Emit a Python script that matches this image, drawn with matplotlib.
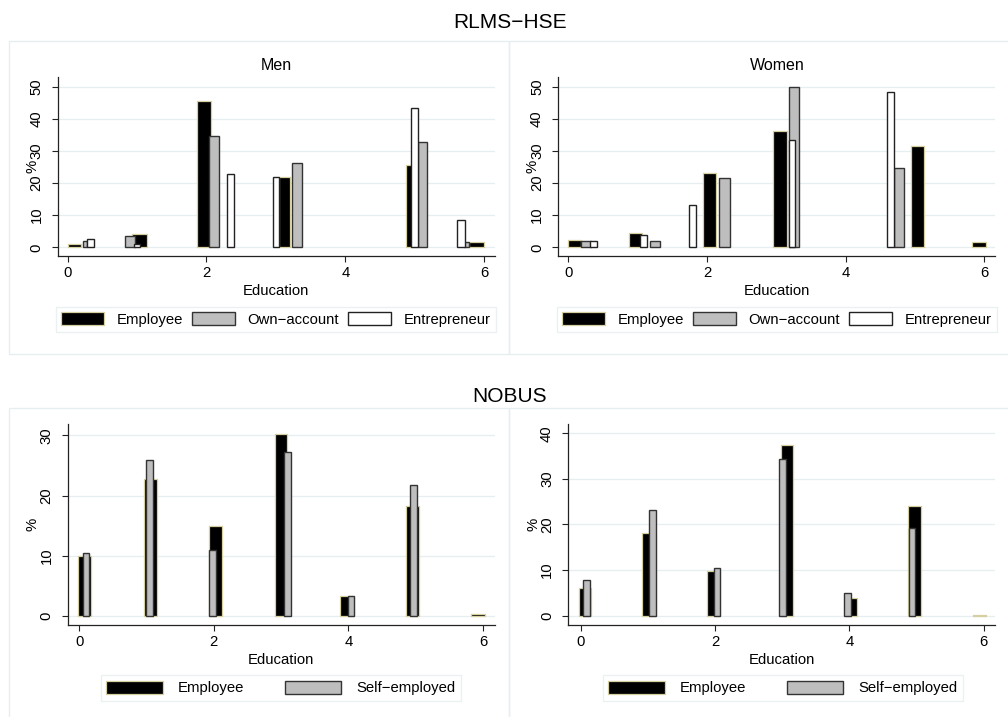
import matplotlib
matplotlib.use("Agg")
import matplotlib.pyplot as plt
from matplotlib.patches import Patch, Rectangle

plt.rcParams['font.family'] = ['Liberation Sans', 'DejaVu Sans']

# RLMS-HSE, men: bar positions on the education scale, widths, and shares (%)
men_emp_x = [0.095, 1.035, 1.965, 3.12, 4.96, 5.89]
men_emp_w = [0.19, 0.21, 0.19, 0.16, 0.18, 0.22]
men_emp = [0.9, 4.0, 45.5, 21.9, 25.6, 1.8]
men_own_x = [0.255, 0.90, 2.11, 3.305, 5.115, 5.745]
men_own_w = [0.06, 0.14, 0.14, 0.15, 0.13, 0.07]
men_own = [1.9, 3.4, 34.5, 26.1, 32.9, 1.8]
men_ent_x = [0.33, 0.995, 2.34, 3.005, 5.0, 5.665]
men_ent_w = [0.10, 0.09, 0.10, 0.09, 0.10, 0.11]
men_ent = [2.5, 1.1, 22.9, 21.9, 43.5, 8.5]

# RLMS-HSE, women
wom_emp_x = [0.09, 0.975, 2.04, 3.06, 5.035, 5.92]
wom_emp_w = [0.18, 0.19, 0.18, 0.20, 0.19, 0.20]
wom_emp = [2.3, 4.6, 23.0, 36.1, 31.5, 1.7]
wom_own_x = [0.255, 1.255, 2.255, 3.255, 4.77]
wom_own_w = [0.15, 0.15, 0.15, 0.15, 0.14]
wom_own = [2.0, 2.0, 21.7, 50.0, 24.7]
wom_ent_x = [0.36, 1.085, 1.79, 3.225, 4.65]
wom_ent_w = [0.10, 0.09, 0.10, 0.09, 0.10]
wom_ent = [2.0, 3.7, 13.1, 33.5, 48.2]

# NOBUS, men
nb_men_emp_x = [0.075, 1.055, 2.025, 3.0, 3.98, 4.955, 5.93]
nb_men_emp_w = [0.19, 0.19, 0.19, 0.18, 0.20, 0.19, 0.20]
nb_men_emp = [10.0, 22.7, 14.9, 30.3, 3.2, 18.2, 0.2]
nb_men_self_x = [0.10, 1.04, 1.975, 3.09, 4.04, 4.97]
nb_men_self_w = [0.10, 0.10, 0.10, 0.10, 0.10, 0.10]
nb_men_self = [10.5, 25.9, 10.9, 27.2, 3.2, 21.8]

# NOBUS, women
nb_wom_emp_x = [0.06, 1.02, 1.98, 3.07, 4.03, 4.97, 5.935]
nb_wom_emp_w = [0.18, 0.20, 0.20, 0.18, 0.18, 0.20, 0.19]
nb_wom_emp = [6.1, 18.2, 9.7, 37.5, 3.9, 24.1, 0.15]
nb_wom_self_x = [0.09, 1.07, 2.03, 3.0, 3.97, 4.935]
nb_wom_self_w = [0.10, 0.10, 0.10, 0.10, 0.10, 0.10]
nb_wom_self = [7.8, 23.1, 10.4, 34.4, 4.9, 19.2]

x_ticks = [0, 2, 4, 6]

W, H = 1008, 717
FS = 10.7
GRID = '#e6eef0'
emp_style = dict(facecolor='black', edgecolor='#d6cfa0', linewidth=0.9, zorder=2)
own_style = dict(facecolor='#bebebe', edgecolor='#333333', linewidth=1.0, zorder=3)
ent_style = dict(facecolor='white', edgecolor='#222222', linewidth=1.0, zorder=4)

fig = plt.figure(figsize=(W / 100, H / 100), dpi=100)


def px_rect(x0, y0, x1, y1):
    # pixel box (top-left origin) -> figure fraction rect
    return [x0 / W, 1 - y1 / H, (x1 - x0) / W, (y1 - y0) / H]


def setup_axes(rect, xlim, ylim, yticks, pct_x):
    ax = fig.add_axes(rect)
    ax.set_xlim(*xlim)
    ax.set_ylim(*ylim)
    ax.set_xticks(x_ticks)
    ax.set_yticks(yticks)
    ax.spines['top'].set_visible(False)
    ax.spines['right'].set_visible(False)
    for s in ('left', 'bottom'):
        ax.spines[s].set_color('#222222')
        ax.spines[s].set_linewidth(0.9)
    ax.yaxis.grid(True, color=GRID, linewidth=0.9)
    ax.set_axisbelow(True)
    ax.tick_params(axis='both', length=4.3, width=0.8, color='#222222', labelsize=FS)
    ax.tick_params(axis='x', pad=3)
    ax.tick_params(axis='y', pad=6, labelrotation=90)
    for lbl in ax.get_yticklabels():
        lbl.set_va('center')
    ax.set_xlabel('Education', fontsize=FS, labelpad=3)
    ax.text(pct_x, 0.5, '%', transform=ax.transAxes, rotation=90,
            ha='center', va='center', fontsize=FS)
    return ax


# light frames around each graph
for box in [(9, 41, 509, 354), (509, 41, 1012, 354), (9, 408, 509, 722), (509, 408, 1012, 722)]:
    r = px_rect(*box)
    fig.add_artist(Rectangle((r[0], r[1]), r[2], r[3], transform=fig.transFigure,
                             fill=False, edgecolor=GRID, linewidth=1.0))

fig.text(0.506, 1 - 23 / H, 'RLMS\u2212HSE', ha='center', va='center', fontsize=15)
fig.text(0.506, 1 - 397 / H, 'NOBUS', ha='center', va='center', fontsize=15)

rlms_handles = [Patch(label='Employee', **emp_style),
                Patch(label='Own\u2212account', **own_style),
                Patch(label='Entrepreneur', **ent_style)]
nobus_handles = [Patch(label='Employee', **emp_style),
                 Patch(label='Self\u2212employed', **own_style)]

# top row: RLMS-HSE
panels = [
    ('Men', px_rect(57.7, 77, 495, 256), men_emp_x, men_emp_w, men_emp,
     men_own_x, men_own_w, men_own, men_ent_x, men_ent_w, men_ent, 276),
    ('Women', px_rect(558.3, 77, 995, 256), wom_emp_x, wom_emp_w, wom_emp,
     wom_own_x, wom_own_w, wom_own, wom_ent_x, wom_ent_w, wom_ent, 777),
]
for title, rect, ex, ew, ey, ox, ow, oy, nx, nw, ny, cx in panels:
    ax = setup_axes(rect, (-0.144, 6.157), (-2.7, 53.0), [0, 10, 20, 30, 40, 50], -0.058)
    ax.bar(ex, ey, width=ew, **emp_style)
    ax.bar(ox, oy, width=ow, **own_style)
    ax.bar(nx, ny, width=nw, **ent_style)
    fig.text(cx / W, 1 - 65 / H, title, ha='center', va='center', fontsize=11.5)
    ax.legend(handles=rlms_handles, loc='center', bbox_to_anchor=(cx / W, 1 - 319.5 / H),
              bbox_transform=fig.transFigure, ncol=3, fontsize=FS, frameon=True,
              fancybox=False, edgecolor=GRID, handlelength=2.9, handleheight=1.0,
              handletextpad=0.85, columnspacing=0.6, borderpad=0.35)

# bottom row: NOBUS
panels = [
    (px_rect(67.7, 424.3, 495, 625), (-0.173, 6.18), (-1.55, 31.85), [0, 10, 20, 30],
     nb_men_emp_x, nb_men_emp_w, nb_men_emp, nb_men_self_x, nb_men_self_w, nb_men_self, 281),
    (px_rect(568.3, 424.3, 995, 625), (-0.185, 6.17), (-2.04, 41.97), [0, 10, 20, 30, 40],
     nb_wom_emp_x, nb_wom_emp_w, nb_wom_emp, nb_wom_self_x, nb_wom_self_w, nb_wom_self, 783),
]
for rect, xlim, ylim, yt, ex, ew, ey, sx, sw, sy, cx in panels:
    ax = setup_axes(rect, xlim, ylim, yt, -0.082)
    ax.bar(ex, ey, width=ew, **emp_style)
    ax.bar(sx, sy, width=sw, **own_style)
    ax.legend(handles=nobus_handles, loc='center', bbox_to_anchor=(cx / W, 1 - 688 / H),
              bbox_transform=fig.transFigure, ncol=2, fontsize=FS, frameon=True,
              fancybox=False, edgecolor=GRID, handlelength=3.8, handleheight=1.05,
              handletextpad=1.05, columnspacing=2.7, borderpad=0.35)

plt.savefig('out.png', dpi=100)
